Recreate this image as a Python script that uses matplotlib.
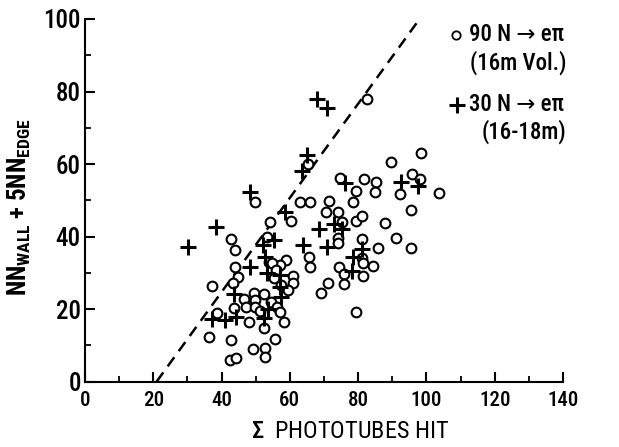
import numpy as np
import matplotlib
matplotlib.use("Agg")
import matplotlib.pyplot as plt
from matplotlib import font_manager as fm
from matplotlib.ticker import MultipleLocator

# narrow lettering like the original figure, whichever is installed
have = {f.name for f in fm.fontManager.ttflist}
narrow = 'DejaVu Sans'
for cand in ['Roboto Condensed', 'Archivo Narrow', 'PT Sans Narrow', 'Liberation Sans Narrow',
             'Open Sans Condensed', 'Encode Sans Condensed']:
    if cand in have:
        narrow = cand
        break
plt.rcParams['font.family'] = [narrow, 'DejaVu Sans']
plt.rcParams['font.weight'] = 'medium'
plt.rcParams['mathtext.fontset'] = 'custom'
plt.rcParams['mathtext.rm'] = narrow
plt.rcParams['mathtext.bf'] = narrow + ':bold'

# 90 N -> e pi (16m Vol.)
circ_x = [82.5, 65.2, 89.5, 98.5, 95.9, 98.0, 103.7, 74.8, 81.7, 85.1, 84.8, 79.5, 92.2, 78.6, 71.6,
          63.1, 65.8, 70.7, 74.1, 75.3, 79.5, 81.2, 87.8, 95.4, 74.1, 74.1, 81.2, 85.8, 91.2, 65.5,
          81.2, 95.4, 65.8, 74.3, 81.5, 84.4, 76.0, 81.5, 71.1, 76.0, 69.2, 79.3, 49.9, 54.3, 60.4,
          53.3, 42.8, 43.8, 54.0, 59.0, 57.0, 54.8, 44.0, 44.7, 55.8, 55.3, 61.0, 37.2, 43.4, 57.4,
          60.8, 49.6, 52.5, 59.4, 46.7, 49.9, 54.5, 38.7, 43.5, 47.3, 49.9, 51.2, 56.1, 57.2, 47.9,
          58.2, 52.5, 36.2, 42.8, 55.6, 49.2, 52.6, 42.4, 44.3, 52.6]
circ_y = [77.9, 59.9, 60.6, 63.0, 57.2, 55.8, 52.1, 56.2, 55.9, 55.0, 52.2, 52.6, 51.6, 49.4, 49.8,
          49.6, 49.6, 46.8, 46.8, 44.1, 44.3, 45.7, 43.8, 47.3, 39.7, 38.1, 39.2, 36.9, 39.7, 34.4,
          34.0, 36.7, 31.7, 31.7, 32.6, 31.9, 29.7, 29.1, 27.1, 26.8, 24.5, 19.2, 49.6, 44.1, 44.4,
          39.9, 39.2, 36.3, 33.1, 33.5, 32.1, 32.6, 31.7, 28.9, 30.8, 28.5, 29.1, 26.3, 27.3, 26.6,
          27.1, 24.3, 24.1, 25.2, 22.7, 22.5, 22.0, 19.0, 20.2, 20.6, 20.6, 19.5, 20.6, 19.3, 16.5,
          16.5, 14.7, 12.2, 11.4, 11.7, 8.9, 9.2, 5.9, 6.6, 6.8]

# 30 N -> e pi (16-18m)
cross_x = [68.0, 70.9, 65.0, 63.5, 76.3, 92.7, 97.5, 48.2, 58.7, 72.9, 75.3, 68.6, 38.5, 30.3, 52.0,
           55.3, 63.9, 81.2, 70.9, 78.6, 78.3, 52.8, 48.2, 53.3, 57.2, 57.2, 43.5, 57.5, 53.5, 37.2,
           41.1, 44.3, 52.3]
cross_y = [77.9, 75.4, 62.5, 58.1, 54.7, 54.9, 53.9, 52.4, 46.8, 43.4, 42.1, 42.2, 42.6, 37.0, 37.7,
           39.0, 37.7, 36.6, 37.2, 34.4, 30.6, 34.3, 31.5, 29.9, 29.4, 26.2, 24.2, 23.2, 19.9, 17.2,
           17.0, 17.9, 17.4]

# dashed cut line
cut_x = [21, 98]
cut_y = [0, 100]

fig = plt.figure(figsize=(6.19, 4.47), dpi=100)
ax = fig.add_axes([0.1373, 0.1465, 0.7722, 0.8110])

ax.plot(cut_x, cut_y, color='black', lw=1.8, ls=(0, (4.5, 3)))
ax.plot(circ_x, circ_y, ls='none', marker='o', ms=7, mfc='white', mec='black', mew=1.5)
ax.plot(cross_x, cross_y, ls='none', marker='+', ms=11, mec='black', mew=2.2)

ax.set_xlim(0, 140)
ax.set_ylim(0, 100)
ax.spines['top'].set_visible(False)
ax.spines['right'].set_visible(False)
for s in ['left', 'bottom']:
    ax.spines[s].set_linewidth(1.5)

ax.xaxis.set_major_locator(MultipleLocator(20))
ax.xaxis.set_minor_locator(MultipleLocator(10))
ax.yaxis.set_major_locator(MultipleLocator(20))
ax.yaxis.set_minor_locator(MultipleLocator(10))
ax.tick_params(which='major', direction='in', length=7, width=1.5)
ax.tick_params(which='minor', direction='in', length=4, width=1.3)
ax.tick_params(axis='x', which='major', labelsize=15, pad=7)
ax.tick_params(axis='y', which='major', labelsize=18, pad=3)

ax.set_xlabel(r'$\Sigma$  PHOTOTUBES HIT', fontsize=17.5)
ax.xaxis.set_label_coords(0.555, -0.105)
ax.set_ylabel(r'NN$_{\mathbf{WALL}}$ + 5NN$_{\mathbf{EDGE}}$', fontsize=18, fontweight='bold')
ax.yaxis.set_label_coords(-0.108, 0.48)

# legend drawn as text, like the original
ax.plot([0.776], [0.956], transform=ax.transAxes, marker='o', ms=6, mfc='white',
        mec='black', mew=1.3, clip_on=False)
ax.text(0.803, 0.956, '90 N \u2192 e\u03c0', transform=ax.transAxes, fontsize=16.5, va='center')
ax.text(0.805, 0.879, '(16m Vol.)', transform=ax.transAxes, fontsize=16.5, va='center')
ax.plot([0.778], [0.763], transform=ax.transAxes, marker='+', ms=11, mec='black',
        mew=2.2, clip_on=False)
ax.text(0.803, 0.763, '30 N \u2192 e\u03c0', transform=ax.transAxes, fontsize=16.5, va='center')
ax.text(0.830, 0.690, '(16-18m)', transform=ax.transAxes, fontsize=16.5, va='center')

fig.savefig('out.png', dpi=100)
